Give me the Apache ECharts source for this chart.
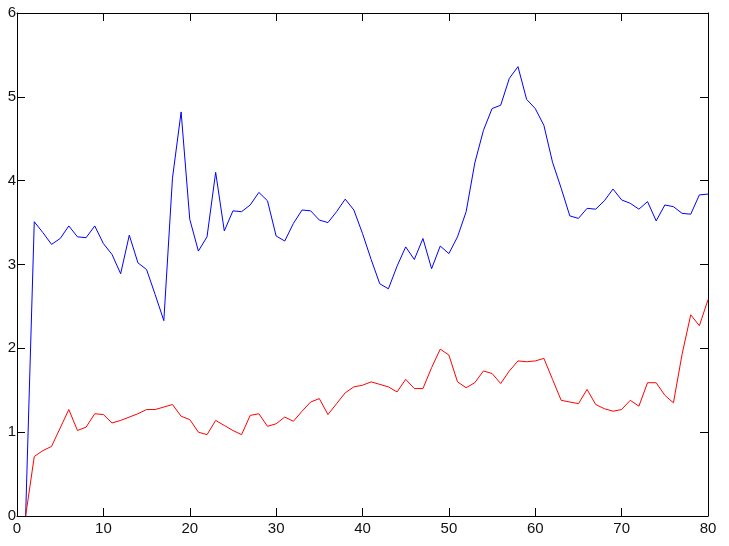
<!DOCTYPE html>
<html>
<head>
<meta charset="utf-8">
<script src="https://cdn.jsdelivr.net/npm/echarts@6/dist/echarts.min.js"></script>
<style>html,body{margin:0;padding:0;background:#fff;}#chart{width:729px;height:546px;}</style>
</head>
<body>
<div id="chart"></div>
<script>
// x positions 1..80
const xValues = [];
for (let i = 1; i <= 80; i++) xValues.push(i);

const blueValues = [
  0, 3.51, 3.38, 3.24, 3.31, 3.46, 3.33, 3.32, 3.46, 3.25,
  3.12, 2.89, 3.35, 3.02, 2.94, 2.64, 2.33, 4.03, 4.82, 3.54,
  3.16, 3.33, 4.10, 3.40, 3.64, 3.63, 3.71, 3.86, 3.76, 3.34,
  3.28, 3.49, 3.65, 3.64, 3.53, 3.50, 3.63, 3.78, 3.65, 3.37,
  3.06, 2.77, 2.71, 2.98, 3.21, 3.06, 3.31, 2.95, 3.22, 3.13,
  3.33, 3.63, 4.21, 4.60, 4.86, 4.90, 5.22, 5.36, 4.97, 4.86,
  4.66, 4.22, 3.91, 3.58, 3.55, 3.67, 3.66, 3.76, 3.90, 3.77,
  3.73, 3.66, 3.75, 3.52, 3.71, 3.69, 3.61, 3.60, 3.83, 3.84
];

const redValues = [
  0, 0.71, 0.78, 0.83, 1.05, 1.27, 1.02, 1.06, 1.22, 1.21,
  1.11, 1.14, 1.18, 1.22, 1.27, 1.27, 1.30, 1.33, 1.19, 1.15,
  1.00, 0.97, 1.14, 1.08, 1.02, 0.97, 1.20, 1.22, 1.07, 1.10,
  1.18, 1.13, 1.25, 1.36, 1.40, 1.21, 1.34, 1.47, 1.54, 1.56,
  1.60, 1.57, 1.54, 1.48, 1.63, 1.52, 1.52, 1.77, 1.99, 1.92,
  1.60, 1.53, 1.59, 1.73, 1.70, 1.58, 1.73, 1.85, 1.84, 1.85,
  1.88, 1.63, 1.38, 1.36, 1.34, 1.51, 1.33, 1.28, 1.25, 1.27,
  1.38, 1.31, 1.59, 1.59, 1.44, 1.35, 1.93, 2.40, 2.27, 2.58
];

const xTicks = { min: 0, max: 80, interval: 10 };
const yTicks = { min: 0, max: 6, interval: 1 };

const chart = echarts.init(document.getElementById('chart'), null, { renderer: 'canvas' });
const labelFont = { color: '#111', fontSize: 15, fontFamily: 'Liberation Sans, Arial, sans-serif' };
const lineStyle = { color: '#000', width: 1 };

chart.setOption({
  animation: false,
  backgroundColor: '#fff',
  grid: { left: 17, right: 21, top: 13, bottom: 30, containLabel: false },
  xAxis: [
    {
      type: 'value', min: xTicks.min, max: xTicks.max, interval: xTicks.interval,
      position: 'bottom',
      axisLine: { show: true, onZero: false, lineStyle },
      axisTick: { show: true, inside: true, length: 8, lineStyle },
      axisLabel: Object.assign({ margin: 5 }, labelFont),
      splitLine: { show: false }
    },
    {
      type: 'value', min: xTicks.min, max: xTicks.max, interval: xTicks.interval,
      position: 'top',
      axisLine: { show: true, onZero: false, lineStyle },
      axisTick: { show: true, inside: true, length: 8, lineStyle },
      axisLabel: { show: false },
      splitLine: { show: false }
    }
  ],
  yAxis: [
    {
      type: 'value', min: yTicks.min, max: yTicks.max, interval: yTicks.interval,
      position: 'left',
      axisLine: { show: true, onZero: false, lineStyle },
      axisTick: { show: true, inside: true, length: 8, lineStyle },
      axisLabel: Object.assign({ margin: 1 }, labelFont),
      splitLine: { show: false }
    },
    {
      type: 'value', min: yTicks.min, max: yTicks.max, interval: yTicks.interval,
      position: 'right',
      axisLine: { show: true, onZero: false, lineStyle },
      axisTick: { show: true, inside: true, length: 8, lineStyle },
      axisLabel: { show: false },
      splitLine: { show: false }
    }
  ],
  series: [
    {
      type: 'line', name: 'blue', symbol: 'none',
      data: xValues.map((x, i) => [x, blueValues[i]]),
      lineStyle: { color: '#0000ff', width: 1 },
      itemStyle: { color: '#0000ff' }
    },
    {
      type: 'line', name: 'red', symbol: 'none',
      data: xValues.map((x, i) => [x, redValues[i]]),
      lineStyle: { color: '#ff0000', width: 1 },
      itemStyle: { color: '#ff0000' }
    }
  ]
});
</script>
</body>
</html>
